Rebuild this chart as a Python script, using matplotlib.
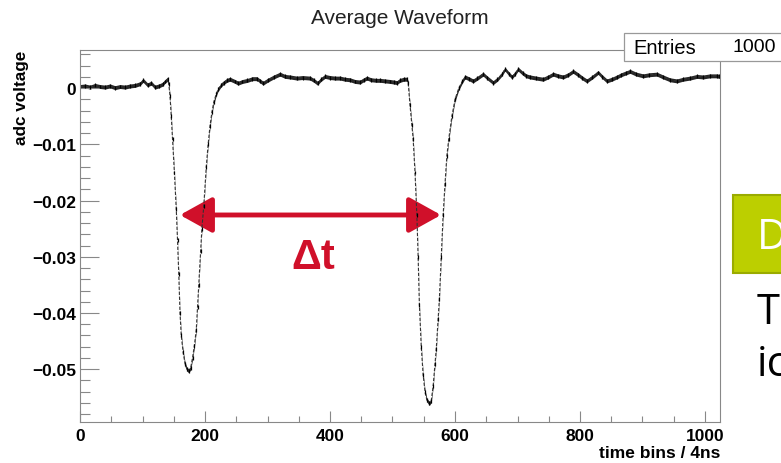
import matplotlib
matplotlib.use("Agg")
import matplotlib.pyplot as plt
import numpy as np
from matplotlib.patches import Rectangle, FancyArrowPatch

# averaged waveform (bin, adc voltage)
wave_bin = [0, 8, 16, 24, 32, 40, 48, 56, 64, 72, 80, 88, 96, 101, 108, 114, 120, 126, 132, 136, 140,
            142, 144, 146, 148, 151, 154, 156, 158, 160, 162, 165, 168, 171, 174, 177, 180, 183, 186,
            188, 190, 193, 195, 198, 202, 205, 208, 211, 214, 218, 221, 226, 230, 235, 240,
            248, 253, 260, 268, 276, 283, 288, 293, 300, 310, 320, 328, 336, 347, 356, 368, 374, 380,
            386, 392, 400, 408, 416, 424, 432, 440, 448, 454, 459, 466, 474, 480, 488, 496, 502, 507,
            512, 518, 523,
            525, 528, 531, 533, 536, 539, 541, 543, 546, 549, 552, 555, 559, 562, 565, 568, 570, 573,
            575, 578, 581, 584, 587, 590, 595, 600, 606, 612, 616,
            622, 629, 636, 645, 652, 661, 668, 675, 680, 686, 691, 696, 701, 708, 714, 720, 730, 741,
            749, 757, 765, 773, 781, 789, 797, 804, 811, 820, 829, 836, 843, 851, 859, 866, 873, 880,
            890, 901, 911, 923, 933, 944, 955, 965, 976, 987, 997, 1008, 1019, 1023]
wave_adc = [0.0003, 0.0004, 0.0002, 0.0005, 0.0003, 0.0002, 0.0004, 0.0001, 0.0003, 0.0002, 0.0004,
            0.0005, 0.0008, 0.0014, 0.0006, 0.0009, 0.0002, 0.0004, 0.0007, 0.0012, 0.0016,
            0.0008, -0.0014, -0.005, -0.009, -0.015, -0.0215, -0.027, -0.033, -0.040, -0.044, -0.047,
            -0.049, -0.050, -0.0503, -0.0498, -0.048, -0.0458, -0.043,
            -0.039, -0.035, -0.029, -0.025, -0.021, -0.014, -0.010, -0.0067, -0.0043, -0.0025, -0.0010,
            -0.0002, 0.0006, 0.0010, 0.0014, 0.0016,
            0.0012, 0.0009, 0.0012, 0.0014, 0.0017, 0.0017, 0.0013, 0.0009, 0.0014, 0.0020, 0.0025,
            0.0021, 0.0020, 0.0018, 0.0019, 0.0018, 0.0014, 0.0009, 0.0016, 0.0021, 0.0019, 0.0018,
            0.0018, 0.0016, 0.0015, 0.0012, 0.0011, 0.0015, 0.0018, 0.0015, 0.0014, 0.0014, 0.0013,
            0.0012, 0.0011, 0.0010, 0.0014, 0.0016, 0.0016,
            0.0010, -0.003, -0.0065, -0.009, -0.015, -0.0226, -0.030, -0.0385, -0.046, -0.051, -0.054,
            -0.0555, -0.0561, -0.0556, -0.053, -0.049, -0.0464, -0.041, -0.0375, -0.030, -0.0226,
            -0.017, -0.012, -0.009, -0.005, -0.002, 0.0000, 0.0013, 0.0020,
            0.0017, 0.0013, 0.0018, 0.0025, 0.0018, 0.0010, 0.0016, 0.0025, 0.0034, 0.0026, 0.0020,
            0.0026, 0.0034, 0.0027, 0.0022, 0.0020, 0.0018, 0.0016, 0.0020, 0.0025, 0.0022, 0.0020,
            0.0024, 0.0030, 0.0024, 0.0018, 0.0013, 0.0020, 0.0028, 0.0020, 0.0013, 0.0016, 0.0020,
            0.0024, 0.0027, 0.0030, 0.0025, 0.0022, 0.0024, 0.0025, 0.0020, 0.0015, 0.0013, 0.0016,
            0.0018, 0.0021, 0.0020, 0.0022, 0.0022, 0.0021]
adc_err = 0.00035
n_entries = 1000

xticks = [0, 200, 400, 600, 800, 1000]
yticks = [0, -0.01, -0.02, -0.03, -0.04, -0.05]

x = np.asarray(wave_bin)
y = np.asarray(wave_adc)

plt.rcParams['font.family'] = ['Liberation Sans', 'DejaVu Sans']
fig = plt.figure(figsize=(7.81, 4.64), dpi=100)
ax = fig.add_axes([80/781, 1-423/464, 640/781, 372/464])

ax.fill_between(x, y - adc_err, y + adc_err, color='black', lw=0, alpha=0.85)
ax.plot(x, y, color='#333333', lw=0.8, ls=(0, (3, 1.5)))
ax.errorbar(x, y, yerr=adc_err, fmt='none', ecolor='black', elinewidth=0.9)

ax.set_xlim(0, 1024)
ax.set_ylim(-0.0594, 0.0068)
ax.set_xticks(xticks)
ax.set_yticks(yticks)
ax.set_yticklabels(['0', '\u22120.01', '\u22120.02', '\u22120.03', '\u22120.04', '\u22120.05'])
ax.set_xticks(np.arange(0, 1025, 50), minor=True)
ax.set_yticks(np.arange(-0.058, 0.007, 0.002), minor=True)
ax.tick_params(axis='both', which='both', direction='in', color='#888888', width=0.8,
               top=False, right=False, labelsize=12.5)
ax.tick_params(axis='x', which='major', length=8, pad=4)
ax.tick_params(axis='x', which='minor', length=4)
ax.tick_params(axis='y', which='major', length=14, pad=3)
ax.tick_params(axis='y', which='minor', length=7)
for lab in ax.get_xticklabels() + ax.get_yticklabels():
    lab.set_fontweight('bold')
for sp in ax.spines.values():
    sp.set_color('#888888')
    sp.set_linewidth(0.8)

ax.set_xlabel('time bins / 4ns', fontsize=12.5, fontweight='bold', ha='right', x=1.0, labelpad=2)
ax.set_ylabel('adc voltage', fontsize=12.3, fontweight='bold', ha='right', y=1.0, labelpad=2)
fig.text(400/781, 1-18/464, 'Average Waveform', ha='center', va='center', fontsize=15, color='#222222')

# stats box
fig.patches.append(Rectangle((624/781, 1-62/464), 0.3, 28/464, transform=fig.transFigure,
                             facecolor='white', edgecolor='#999999', lw=0.9))
fig.text(633/781, 1-48/464, 'Entries', va='center', fontsize=14.5)
fig.text(732/781, 1-48/464, str(n_entries), va='center', fontsize=14)

# delta t arrow between the pulses
arrow = FancyArrowPatch((160, -0.02256), (577.6, -0.02256), arrowstyle='<|-|>,head_length=0.9,head_width=0.5',
                        mutation_scale=22, color='#d0102a', lw=3.5, shrinkA=0, shrinkB=0)
ax.add_patch(arrow)
ax.text(373, -0.0300, '\u0394t', color='#d0102a', fontsize=30, fontweight='bold',
        ha='center', va='center')

# slide bits on the right
fig.patches.append(Rectangle((733/781, 1-274/464), 0.2, 78/464, transform=fig.transFigure,
                             facecolor='#bccf00', edgecolor='#9aab00', lw=1.5))
fig.text(757/781, 1-238/464, 'D', color='white', fontsize=30, va='center', family='Open Sans')
fig.text(757/781, 1-313/464, 'T', color='black', fontsize=30, va='center', family='Open Sans')
fig.text(757/781, 1-365/464, 'ic', color='black', fontsize=30, va='center', family='Open Sans')

fig.savefig('out.png', dpi=100)
